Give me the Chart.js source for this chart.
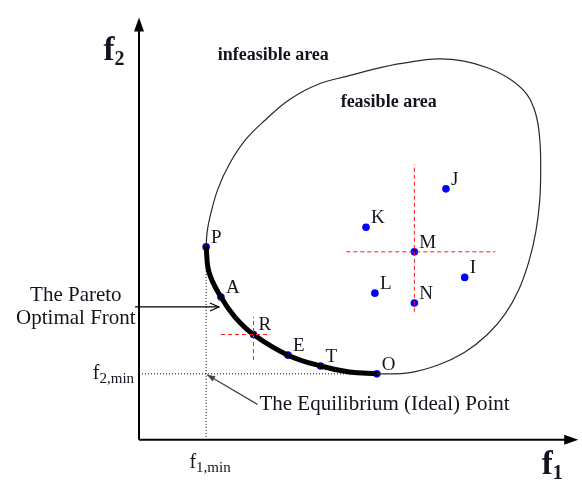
<!DOCTYPE html>
<html>
<head>
<meta charset="utf-8">
<script src="https://cdn.jsdelivr.net/npm/chart.js@4.4.1/dist/chart.umd.min.js"></script>
<style>
  html, body { margin: 0; padding: 0; background: #fff; }
  #wrap { width: 582px; height: 482px; }
</style>
</head>
<body>
<div id="wrap"><canvas id="pareto" width="582" height="482"></canvas></div>
<script>
// feasible region outline, traced clockwise from O round to P (diagram units)
const boundaryF1 = [241, 273, 303, 330, 353, 371, 385, 395, 402, 406, 407, 406, 402, 393, 375, 353, 328, 303, 276, 248, 213, 181, 153, 128, 108, 92, 80, 72, 69, 68];
const boundaryF2 = [67, 68, 76, 89, 107, 128, 153, 181, 211, 243, 276, 306, 331, 351, 367, 378, 385, 387, 384, 379, 370, 361, 346, 325, 305, 281, 255, 227, 211, 196];

// Pareto optimal front, P -> O
const frontF1 = [68, 71, 83, 97, 116, 151, 184, 213, 241];
const frontF2 = [196, 170, 145, 125, 107, 86, 75, 69, 67];

// labelled solutions
const pointNames = ['P', 'A', 'R', 'E', 'T', 'O', 'K', 'M', 'J', 'I', 'L', 'N'];
const pointF1 = [68, 83, 116, 151, 184, 241, 230, 279, 311, 330, 239, 279];
const pointF2 = [196, 145, 107, 86, 75, 67, 216, 191, 255, 165, 149, 139];

// red dashed cross hairs through M and R
const crossMF1 = [210, 361];
const crossMF2 = [130, 280];
const crossRF1 = [83, 133];
const crossRF2 = [81, 125];

// ideal point and axis lengths
const f1Min = 68;
const f2Min = 67;
const f1AxisMax = 445;
const f2AxisMax = 429;

const SERIF = '"Liberation Serif", "DejaVu Serif", serif';
const INK = '#14141e';

function pt(f1, f2) { return { x: f1, y: f2 }; }
function idx(name) { return pointNames.indexOf(name); }

const M = idx('M'), R = idx('R');

function seg(data, color, width, dash) {
  return {
    data: data, showLine: true, borderColor: color, borderWidth: width,
    borderDash: dash || [], pointRadius: 0, tension: 0, fill: false
  };
}

const datasets = [
  // axes
  seg([pt(0, 0), pt(f1AxisMax - 8, 0)], '#000', 2),
  seg([pt(0, 0), pt(0, f2AxisMax - 8)], '#000', 2),
  // dotted guides to the ideal point
  seg([pt(f1Min, pointF2[idx('P')]), pt(f1Min, 0)], '#000', 1, [1, 2]),
  seg([pt(0, f2Min), pt(pointF1[idx('O')], f2Min)], '#000', 1, [1, 2]),
  // cross hairs
  seg([pt(crossMF1[0], pointF2[M]), pt(crossMF1[1], pointF2[M])], '#ff1a1a', 1, [4, 3]),
  seg([pt(pointF1[M], crossMF2[0]), pt(pointF1[M], crossMF2[1])], '#ff1a1a', 1, [4, 3]),
  seg([pt(crossRF1[0], pointF2[R]), pt(crossRF1[1], pointF2[R])], '#ff1a1a', 1, [4, 3]),
  seg([pt(pointF1[R], crossRF2[0]), pt(pointF1[R], crossRF2[1])], '#ff1a1a', 1, [4, 3]),
  // feasible region outline
  Object.assign(seg(boundaryF1.map((v, i) => pt(v, boundaryF2[i])), '#2a2a2a', 1.2), { tension: 0.4 }),
  // Pareto front
  Object.assign(seg(frontF1.map((v, i) => pt(v, frontF2[i])), '#000', 5), { tension: 0.4, borderCapStyle: 'round' }),
  // solutions
  {
    data: pointF1.map((v, i) => pt(v, pointF2[i])),
    showLine: false, pointRadius: 3.8, pointHoverRadius: 3.8,
    backgroundColor: '#0000ff', borderColor: '#0000ff', borderWidth: 0
  }
];

function arrowHead(ctx, x1, y1, x2, y2, len, half, filled) {
  const a = Math.atan2(y2 - y1, x2 - x1);
  ctx.beginPath();
  ctx.moveTo(x2 - len * Math.cos(a) + half * Math.sin(a), y2 - len * Math.sin(a) - half * Math.cos(a));
  ctx.lineTo(x2, y2);
  ctx.lineTo(x2 - len * Math.cos(a) - half * Math.sin(a), y2 - len * Math.sin(a) + half * Math.cos(a));
  if (filled) { ctx.closePath(); ctx.fill(); } else { ctx.stroke(); }
}

function subText(ctx, x, y, main, sub, mainFont, subFont, drop, align) {
  ctx.font = mainFont;
  const w1 = ctx.measureText(main).width;
  ctx.font = subFont;
  const w2 = ctx.measureText(sub).width;
  let left = x;
  if (align === 'right') left = x - w1 - w2;
  if (align === 'center') left = x - (w1 + w2) / 2;
  ctx.textAlign = 'left';
  ctx.textBaseline = 'alphabetic';
  ctx.font = mainFont;
  ctx.fillText(main, left, y);
  ctx.font = subFont;
  ctx.fillText(sub, left + w1, y + drop);
}

const annotate = {
  id: 'annotate',
  afterDatasetsDraw(chart) {
    const ctx = chart.ctx;
    const sx = chart.scales.x, sy = chart.scales.y;
    const px = v => sx.getPixelForValue(v);
    const py = v => sy.getPixelForValue(v);
    ctx.save();
    ctx.fillStyle = '#000';
    ctx.strokeStyle = '#000';

    // axis arrow heads
    arrowHead(ctx, px(0), py(0), px(0), py(f2AxisMax), 14, 5, true);
    arrowHead(ctx, px(0), py(0), px(f1AxisMax), py(0), 14, 5, true);

    // arrow pointing at the front
    ctx.lineWidth = 1.2;
    ctx.beginPath();
    ctx.moveTo(px(-4), py(135));
    ctx.lineTo(px(81), py(135));
    ctx.stroke();
    arrowHead(ctx, px(-4), py(135), px(81), py(135), 9, 4, false);

    // arrow pointing at the ideal point
    ctx.strokeStyle = '#444';
    ctx.fillStyle = '#444';
    ctx.beginPath();
    ctx.moveTo(px(120), py(36));
    ctx.lineTo(px(f1Min + 1), py(f2Min - 1));
    ctx.stroke();
    arrowHead(ctx, px(120), py(36), px(f1Min + 1), py(f2Min - 1), 8, 3, true);

    ctx.fillStyle = INK;
    // point labels
    ctx.font = '19px ' + SERIF;
    ctx.textAlign = 'left';
    ctx.textBaseline = 'middle';
    pointNames.forEach((n, i) => {
      ctx.fillText(n, px(pointF1[i]) + 5, py(pointF2[i]) - 9);
    });

    // region names
    ctx.font = 'bold 18px ' + SERIF;
    ctx.textAlign = 'center';
    ctx.fillText('infeasible area', px(136), py(391));
    ctx.fillText('feasible area', px(253), py(343));

    // callouts
    ctx.font = '21px ' + SERIF;
    ctx.fillText('The Pareto', px(-64), py(147));
    ctx.fillText('Optimal Front', px(-64), py(123));
    ctx.textAlign = 'left';
    ctx.fillText('The Equilibrium (Ideal) Point', px(122), py(36));

    // min markers
    subText(ctx, px(-5), py(f2Min) + 5, 'f', '2,min', '20px ' + SERIF, '15px ' + SERIF, 4, 'right');
    subText(ctx, px(f1Min + 4), py(-23) + 6, 'f', '1,min', '20px ' + SERIF, '15px ' + SERIF, 4, 'center');

    // axis titles
    subText(ctx, px(-36), py(386), 'f', '2', 'bold 33px ' + SERIF, 'bold 20px ' + SERIF, 5, 'left');
    subText(ctx, px(408), py(-35), 'f', '1', 'bold 33px ' + SERIF, 'bold 20px ' + SERIF, 5, 'left');

    ctx.restore();
  }
};

new Chart(document.getElementById('pareto').getContext('2d'), {
  type: 'scatter',
  data: { datasets: datasets },
  options: {
    responsive: false,
    animation: false,
    layout: { padding: 0 },
    plugins: { legend: { display: false }, tooltip: { enabled: false } },
    scales: {
      x: { type: 'linear', display: false, min: -137, max: 445 },
      y: { type: 'linear', display: false, min: -39, max: 443 }
    }
  },
  plugins: [annotate]
});
</script>
</body>
</html>
